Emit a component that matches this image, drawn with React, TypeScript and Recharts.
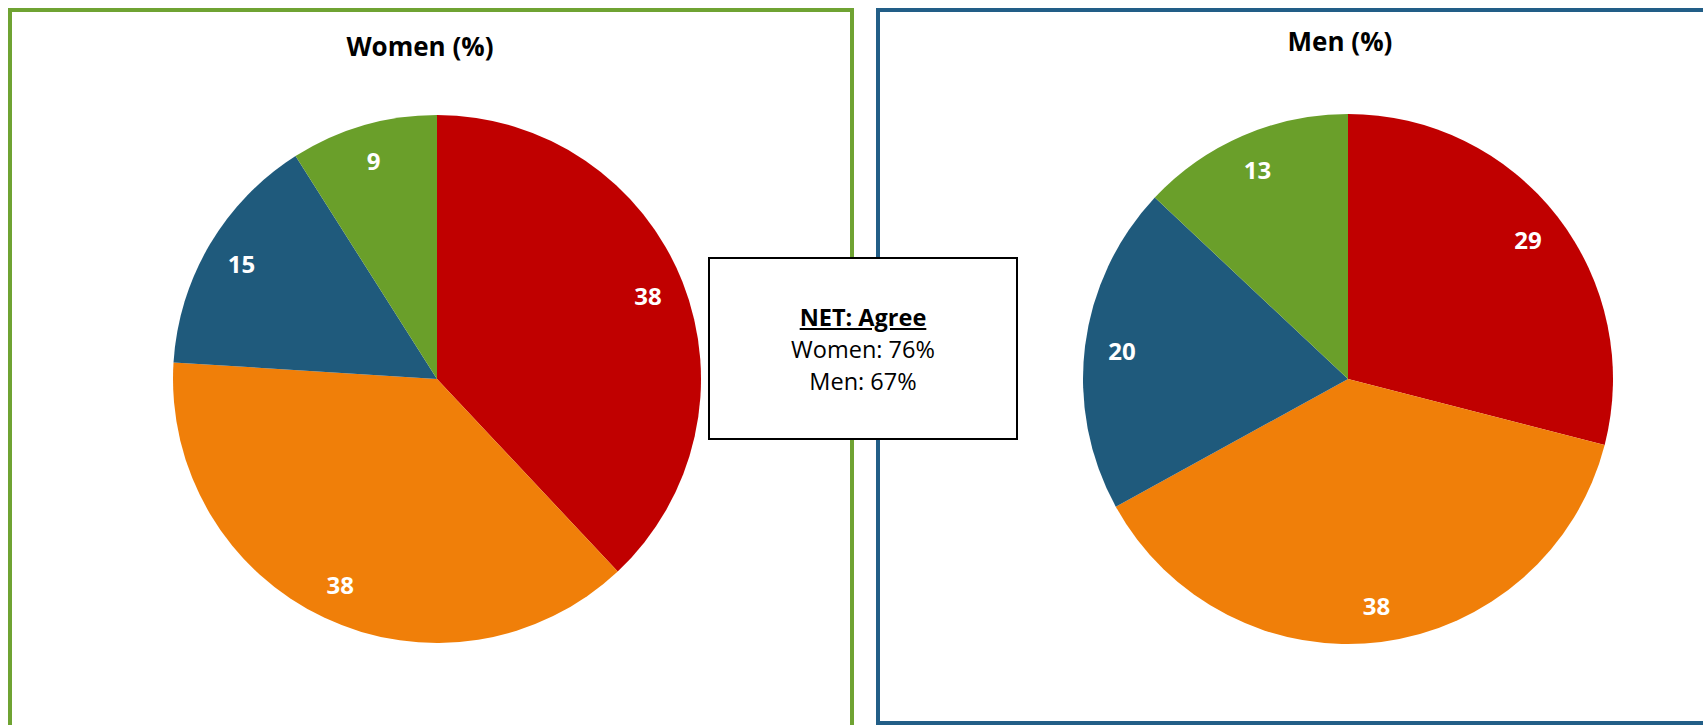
import React from 'react';
import { PieChart, Pie, Cell } from 'recharts';

const categories = ['Strongly agree', 'Somewhat agree', 'Somewhat disagree', 'Strongly disagree'];
const womenValues = [38, 38, 15, 9];
const menValues = [29, 38, 20, 13];
const sliceColors = ['#C00000', '#F07F09', '#1F5A7C', '#6A9F2A'];
const netLines = ['Women: 76%', 'Men: 67%'];

const womenData = categories.map((name, i) => ({ name, value: womenValues[i] }));
const menData = categories.map((name, i) => ({ name, value: menValues[i] }));

const RAD = Math.PI / 180;
const font = '"Open Sans", sans-serif';

const renderLabel = (props: any) => {
  const { cx, cy, midAngle, outerRadius, value } = props;
  const r = outerRadius * 0.86;
  const x = cx + r * Math.cos(-midAngle * RAD);
  const y = cy + r * Math.sin(-midAngle * RAD);
  return (
    <text x={x} y={y} fill="#fff" fontSize={24} fontWeight={700} fontFamily={font}
      textAnchor="middle" dominantBaseline="central">
      {value}
    </text>
  );
};

export default function App() {
  return (
    <div style={{ position: 'fixed', left: 0, top: 0, width: 1703, height: 725, overflow: 'hidden', background: '#fff', fontFamily: font }}>
      <div style={{ position: 'absolute', left: 8, top: 8, width: 846, height: 800, border: '4px solid #6FA332', boxSizing: 'border-box' }} />
      <div style={{ position: 'absolute', left: 876, top: 8, width: 900, height: 717, border: '4px solid #225E87', boxSizing: 'border-box' }} />

      <div style={{ position: 'absolute', left: 220, width: 400, top: 28, textAlign: 'center', fontSize: 26, fontWeight: 700, lineHeight: '36px' }}>Women (%)</div>
      <div style={{ position: 'absolute', left: 1140, width: 400, top: 23, textAlign: 'center', fontSize: 26, fontWeight: 700, lineHeight: '36px' }}>Men (%)</div>

      <div style={{ position: 'absolute', left: 0, top: 0 }}>
        <PieChart width={1703} height={725} margin={{ top: 0, right: 0, bottom: 0, left: 0 }}>
          <Pie data={womenData} dataKey="value" cx={437} cy={379} outerRadius={264}
            startAngle={90} endAngle={-270} stroke="none" label={renderLabel} labelLine={false}
            isAnimationActive={false}>
            {womenData.map((d, i) => <Cell key={d.name} fill={sliceColors[i]} />)}
          </Pie>
          <Pie data={menData} dataKey="value" cx={1348} cy={379} outerRadius={265}
            startAngle={90} endAngle={-270} stroke="none" label={renderLabel} labelLine={false}
            isAnimationActive={false}>
            {menData.map((d, i) => <Cell key={d.name} fill={sliceColors[i]} />)}
          </Pie>
        </PieChart>
      </div>

      <div style={{ position: 'absolute', left: 708, top: 257, width: 310, height: 183, border: '2px solid #000', background: '#fff', boxSizing: 'border-box', display: 'flex', flexDirection: 'column', justifyContent: 'center', alignItems: 'center', fontSize: 23.5, lineHeight: '32px', color: '#000' }}>
        <div style={{ fontWeight: 700, textDecoration: 'underline' }}>NET: Agree</div>
        {netLines.map(t => <div key={t}>{t}</div>)}
      </div>
    </div>
  );
}
